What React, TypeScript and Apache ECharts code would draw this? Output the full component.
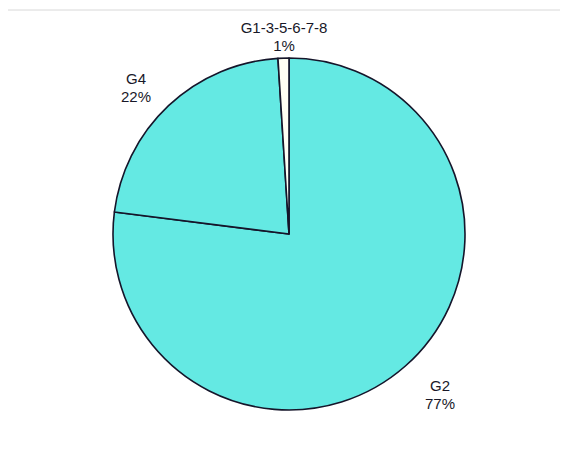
import React, { useEffect, useRef } from "react";
import * as echarts from "echarts";

const categories = ["G2", "G4", "G1-3-5-6-7-8"];
const values = [77, 22, 1];
const colors = ["#64E9E3", "#64E9E3", "#FFFFF4"];
const labelPos: [number, number][] = [
  [440, 394],
  [136, 87],
  [284, 36],
];

export default function App() {
  const ref = useRef<HTMLDivElement>(null);
  useEffect(() => {
    const chart = echarts.init(ref.current!, null, { renderer: "svg" });
    chart.setOption({
      animation: false,
      backgroundColor: "#ffffff",
      graphic: [
        {
          type: "line",
          shape: { x1: 8, y1: 10, x2: 560, y2: 10 },
          style: { stroke: "#d8d8d8", lineWidth: 1 },
        },
      ],
      series: [
        {
          type: "pie",
          center: [289, 234],
          radius: 176,
          startAngle: 90,
          clockwise: true,
          avoidLabelOverlap: false,
          data: categories.map((c, i) => ({
            name: c,
            value: values[i],
            itemStyle: { color: colors[i] },
          })),
          itemStyle: { borderColor: "#15152a", borderWidth: 1.6 },
          label: {
            show: true,
            position: "outside",
            formatter: "{b}\n{c}%",
            color: "#181828",
            fontFamily: "Liberation Sans, Arial, sans-serif",
            fontSize: 15,
            lineHeight: 18,
            align: "center",
          },
          labelLine: { show: false },
          labelLayout: (p: any) => ({
            x: labelPos[p.dataIndex][0],
            y: labelPos[p.dataIndex][1],
            align: "center",
            verticalAlign: "middle",
          }),
          emphasis: { disabled: true },
        },
      ],
    });
    return () => chart.dispose();
  }, []);
  return (
    <div
      ref={ref}
      style={{ position: "fixed", left: 0, top: 0, width: 567, height: 450 }}
    />
  );
}
